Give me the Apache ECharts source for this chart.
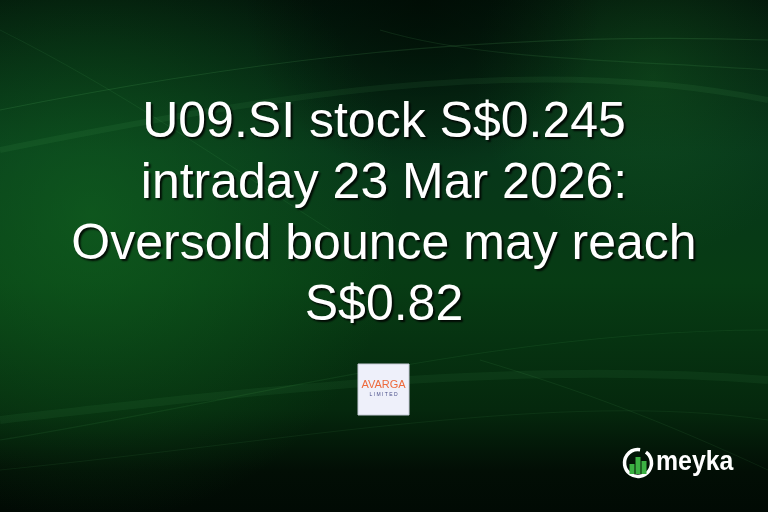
<!DOCTYPE html>
<html>
<head>
<meta charset="utf-8">
<script src="https://cdn.jsdelivr.net/npm/echarts@6/dist/echarts.min.js"></script>
<style>
  html, body { margin: 0; padding: 0; background: #021207; }
  #main { width: 768px; height: 512px; }
</style>
</head>
<body>
<div id="main"></div>
<script>
// headline text, one entry per line
const titleLines = ['U09.SI stock S$0.245', 'intraday 23 Mar 2026:', 'Oversold bounce may reach', 'S$0.82'];
const logoName = 'AVARGA';
const logoSub = 'L I M I T E D';
const brandName = 'meyka';
// icon bar heights inside the brand ring
const brandBars = [10, 17, 13];

const chart = echarts.init(document.getElementById('main'));

const font = '"Liberation Sans", Arial, sans-serif';
const elements = [];

// background gradient
elements.push({
    type: 'rect', silent: true, z: 0,
    shape: { x: 0, y: 0, width: 768, height: 512 },
    style: {
        fill: new echarts.graphic.LinearGradient(0, 0, 0, 1, [
            { offset: 0, color: '#02140a' },
            { offset: 0.3, color: '#07361a' },
            { offset: 0.55, color: '#073c14' },
            { offset: 0.8, color: '#05280d' },
            { offset: 0.92, color: '#020e05' },
            { offset: 1, color: '#010a04' }
        ])
    }
});
// glow on the left and centre
elements.push({
    type: 'rect', silent: true, z: 1,
    shape: { x: 0, y: 0, width: 768, height: 512 },
    style: {
        fill: new echarts.graphic.RadialGradient(0.12, 0.42, 0.6, [
            { offset: 0, color: 'rgba(20,110,35,0.55)' },
            { offset: 1, color: 'rgba(20,110,35,0)' }
        ])
    }
});
elements.push({
    type: 'rect', silent: true, z: 1,
    shape: { x: 0, y: 0, width: 768, height: 512 },
    style: {
        fill: new echarts.graphic.RadialGradient(0.85, 0.15, 0.35, [
            { offset: 0, color: 'rgba(30,120,40,0.3)' },
            { offset: 1, color: 'rgba(30,120,40,0)' }
        ])
    }
});
// dark top-right corner
elements.push({
    type: 'rect', silent: true, z: 1,
    shape: { x: 0, y: 0, width: 768, height: 512 },
    style: {
        fill: new echarts.graphic.RadialGradient(0.55, 0.0, 0.35, [
            { offset: 0, color: 'rgba(0,10,3,0.65)' },
            { offset: 1, color: 'rgba(0,10,3,0)' }
        ])
    }
});

// light streaks
const streak = (x1, y1, cx1, cy1, cx2, cy2, x2, y2, a, w) => ({
    type: 'bezierCurve', silent: true, z: 2,
    shape: { x1, y1, cpx1: cx1, cpy1: cy1, cpx2: cx2, cpy2: cy2, x2, y2 },
    style: { stroke: 'rgba(120,230,130,' + a + ')', lineWidth: w, fill: 'none' }
});
elements.push(streak(0, 110, 200, 70, 450, 30, 768, 40, 0.12, 1.2));
elements.push(streak(0, 30, 120, 90, 220, 160, 330, 230, 0.08, 1));
elements.push(streak(0, 150, 250, 100, 520, 50, 768, 100, 0.07, 6));
elements.push(streak(380, 30, 480, 60, 620, 60, 768, 70, 0.10, 1.2));
elements.push(streak(0, 440, 250, 400, 500, 330, 768, 330, 0.08, 1.2));
elements.push(streak(0, 420, 260, 390, 520, 360, 768, 380, 0.06, 8));
elements.push(streak(0, 470, 300, 440, 560, 390, 768, 420, 0.07, 1));
elements.push(streak(480, 360, 580, 390, 660, 420, 768, 470, 0.08, 1));

// headline
titleLines.forEach((t, i) => {
    elements.push({
        type: 'text', silent: true, z: 10,
        x: 384, y: 123 + i * 61,
        style: {
            text: t,
            font: '50px ' + font,
            fill: '#ffffff',
            align: 'center',
            verticalAlign: 'middle',
            textShadowColor: 'rgba(0,0,0,0.85)',
            textShadowOffsetX: 2,
            textShadowOffsetY: 2,
            textShadowBlur: 2
        }
    });
});

// company logo card
elements.push({
    type: 'rect', silent: true, z: 10,
    shape: { x: 358, y: 364, width: 51, height: 51 },
    style: { fill: '#eef0fa', stroke: '#c8ccd8', lineWidth: 1 }
});
elements.push({
    type: 'text', silent: true, z: 11, x: 383.5, y: 385,
    style: { text: logoName, font: '11px ' + font, fill: '#ee6a3c', align: 'center', verticalAlign: 'middle' }
});
elements.push({
    type: 'text', silent: true, z: 11, x: 383.5, y: 395,
    style: { text: logoSub, font: '5px ' + font, fill: '#4a4f8a', align: 'center', verticalAlign: 'middle' }
});

// brand mark
elements.push({
    type: 'arc', silent: true, z: 10,
    shape: { cx: 638, cy: 463, r: 13.5, startAngle: -Math.PI * 0.3, endAngle: Math.PI * 1.55, clockwise: true },
    style: { stroke: '#ffffff', lineWidth: 3.5, fill: 'none' }
});
brandBars.forEach((h, i) => {
    elements.push({
        type: 'rect', silent: true, z: 11,
        shape: { x: 629.5 + i * 6, y: 474 - h, width: 5, height: h },
        style: { fill: '#3cb043' }
    });
});
elements.push({
    type: 'text', silent: true, z: 10, x: 656, y: 463, scaleX: 0.92, originX: 0,
    style: { text: brandName, font: 'bold 27px ' + font, fill: '#ffffff', align: 'left', verticalAlign: 'middle' }
});

chart.setOption({
    backgroundColor: '#021207',
    animation: false,
    graphic: { elements: elements }
});
</script>
</body>
</html>
